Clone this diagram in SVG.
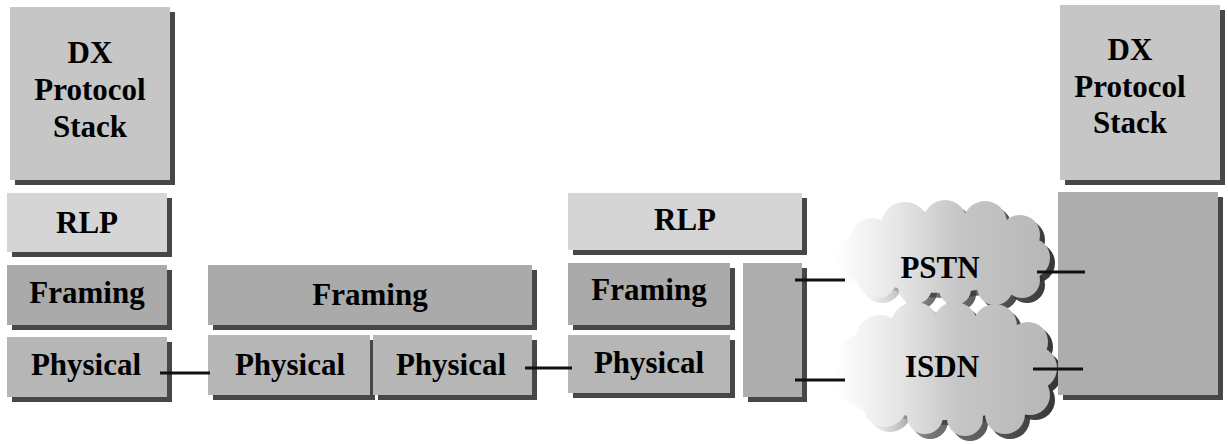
<svg xmlns="http://www.w3.org/2000/svg" xmlns:xlink="http://www.w3.org/1999/xlink" width="1228" height="444" viewBox="0 0 1228 444">
  <style>
    .shadow { fill: #474747; }
    .stack { fill: #c6c6c6; }
    .rlp { fill: #d5d5d5; }
    .framing { fill: #aaaaaa; }
    .physical { fill: #b6b6b6; }
    .plain { fill: #adadad; }
    .label { font-family: "Liberation Serif", "Times New Roman", serif; font-weight: bold; font-size: 31px; fill: #000; text-anchor: middle; }
    .wire { stroke: #111; stroke-width: 3; fill: none; }
  </style>
  <defs>
    <linearGradient id="cloudFill" gradientUnits="userSpaceOnUse" x1="835" y1="0" x2="1057" y2="0">
      <stop offset="0" stop-color="#ffffff"/>
      <stop offset="0.3" stop-color="#e4e4e4"/>
      <stop offset="0.55" stop-color="#c6c6c6"/>
      <stop offset="1" stop-color="#b6b6b6"/>
    </linearGradient>
    <linearGradient id="cloudShade" gradientUnits="userSpaceOnUse" x1="835" y1="0" x2="1057" y2="0">
      <stop offset="0" stop-color="#ffffff" stop-opacity="0"/>
      <stop offset="0.4" stop-color="#3a3a3a" stop-opacity="0.7"/>
      <stop offset="1" stop-color="#333333"/>
    </linearGradient>
    <!-- cloud outlines built from overlapping circles -->
    <g id="pstnShape">
      <ellipse cx="942" cy="255" rx="90" ry="38"/>
      <circle cx="872" cy="240" r="22"/>
      <circle cx="905" cy="226" r="24"/>
      <circle cx="945" cy="222" r="22"/>
      <circle cx="985" cy="223" r="22"/>
      <circle cx="1020" cy="235" r="20"/>
      <circle cx="1030" cy="258" r="20"/>
      <circle cx="1022" cy="280" r="18"/>
      <circle cx="995" cy="287" r="18"/>
      <circle cx="955" cy="289" r="16"/>
      <circle cx="915" cy="287" r="17"/>
      <circle cx="877" cy="278" r="20"/>
      <circle cx="858" cy="258" r="22"/>
    </g>
    <g id="isdnShape">
      <ellipse cx="945" cy="370" rx="95" ry="50"/>
      <circle cx="880" cy="340" r="25"/>
      <circle cx="915" cy="326" r="24"/>
      <circle cx="955" cy="324" r="22"/>
      <circle cx="995" cy="326" r="22"/>
      <circle cx="1028" cy="342" r="20"/>
      <circle cx="1035" cy="368" r="22"/>
      <circle cx="1030" cy="395" r="20"/>
      <circle cx="1005" cy="414" r="20"/>
      <circle cx="965" cy="418" r="18"/>
      <circle cx="925" cy="416" r="18"/>
      <circle cx="885" cy="405" r="22"/>
      <circle cx="860" cy="380" r="25"/>
      <circle cx="860" cy="355" r="20"/>
    </g>
  </defs>

  <!-- left end system -->
  <g id="dx-left">
    <rect class="shadow" x="15" y="12" width="160" height="173"/>
    <rect class="stack" x="10" y="7" width="160" height="173"/>
    <text class="label" x="90" y="63">DX</text>
    <text class="label" x="90" y="100">Protocol</text>
    <text class="label" x="90" y="137">Stack</text>
  </g>
  <g id="rlp-left">
    <rect class="shadow" x="12" y="198" width="160" height="59"/>
    <rect class="rlp" x="7" y="193" width="160" height="59"/>
    <text class="label" x="87" y="233">RLP</text>
  </g>
  <g id="framing-left">
    <rect class="shadow" x="12" y="270" width="160" height="60"/>
    <rect class="framing" x="7" y="265" width="160" height="60"/>
    <text class="label" x="87" y="303">Framing</text>
  </g>
  <g id="physical-left">
    <rect class="shadow" x="12" y="342" width="160" height="60"/>
    <rect class="physical" x="7" y="337" width="160" height="60"/>
    <text class="label" x="86" y="375">Physical</text>
  </g>

  <!-- relay -->
  <g id="framing-relay">
    <rect class="shadow" x="213" y="270" width="324" height="60"/>
    <rect class="framing" x="208" y="265" width="324" height="60"/>
    <text class="label" x="370" y="305">Framing</text>
  </g>
  <g id="physical-relay-a">
    <rect class="shadow" x="213" y="340" width="162" height="60"/>
    <rect class="physical" x="208" y="335" width="162" height="60"/>
    <text class="label" x="290" y="375">Physical</text>
  </g>
  <g id="physical-relay-b">
    <rect class="shadow" x="378" y="340" width="159" height="60"/>
    <rect class="physical" x="373" y="335" width="159" height="60"/>
    <text class="label" x="451" y="375">Physical</text>
  </g>

  <!-- gateway -->
  <g id="rlp-gateway">
    <rect class="shadow" x="573" y="198" width="234" height="57"/>
    <rect class="rlp" x="568" y="193" width="234" height="57"/>
    <text class="label" x="685" y="230">RLP</text>
  </g>
  <g id="framing-gateway">
    <rect class="shadow" x="573" y="268" width="162" height="62"/>
    <rect class="framing" x="568" y="263" width="162" height="62"/>
    <text class="label" x="649" y="300">Framing</text>
  </g>
  <g id="physical-gateway">
    <rect class="shadow" x="573" y="340" width="162" height="58"/>
    <rect class="physical" x="568" y="335" width="162" height="58"/>
    <text class="label" x="649" y="373">Physical</text>
  </g>
  <g id="modem-gateway">
    <rect class="shadow" x="748" y="268" width="59" height="134"/>
    <rect class="plain" x="743" y="263" width="59" height="134"/>
  </g>

  <!-- networks -->
  <g id="pstn">
    <use xlink:href="#pstnShape" fill="url(#cloudShade)" transform="translate(5,5)"/>
    <use xlink:href="#pstnShape" fill="url(#cloudFill)"/>
    <text class="label" x="940" y="278">PSTN</text>
  </g>
  <g id="isdn">
    <use xlink:href="#isdnShape" fill="url(#cloudShade)" transform="translate(5,5)"/>
    <use xlink:href="#isdnShape" fill="url(#cloudFill)"/>
    <text class="label" x="942" y="377">ISDN</text>
  </g>

  <!-- right end system -->
  <g id="dx-right">
    <rect class="shadow" x="1065" y="10" width="160" height="175"/>
    <rect class="stack" x="1060" y="5" width="160" height="175"/>
    <text class="label" x="1130" y="60">DX</text>
    <text class="label" x="1130" y="97">Protocol</text>
    <text class="label" x="1130" y="133">Stack</text>
  </g>
  <g id="host-right">
    <rect class="shadow" x="1063" y="197" width="160" height="203"/>
    <rect class="plain" x="1058" y="192" width="160" height="203"/>
  </g>

  <!-- links -->
  <g id="connectors">
    <line class="wire" x1="160" y1="373" x2="210" y2="373"/>
    <line class="wire" x1="525" y1="368" x2="572" y2="368"/>
    <line class="wire" x1="795" y1="280" x2="845" y2="280"/>
    <line class="wire" x1="795" y1="380" x2="845" y2="380"/>
    <line class="wire" x1="1037" y1="272" x2="1085" y2="272"/>
    <line class="wire" x1="1033" y1="369" x2="1083" y2="369"/>
  </g>
</svg>
